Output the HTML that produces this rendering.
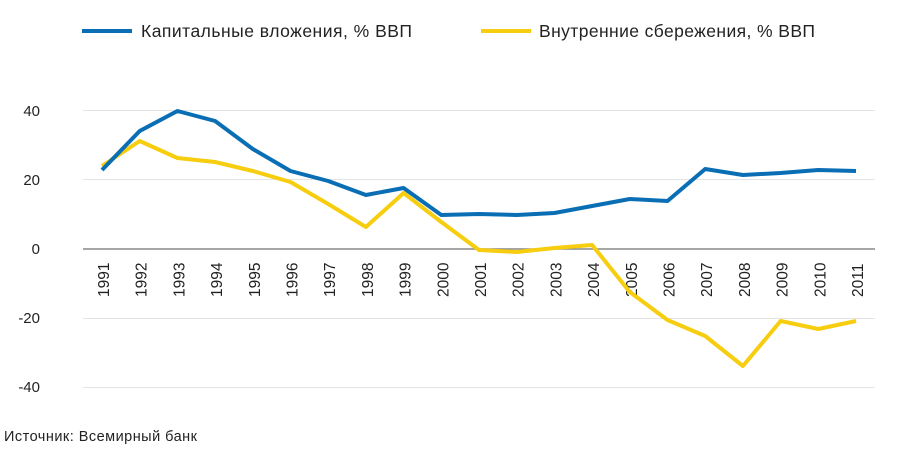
<!DOCTYPE html><html><head><meta charset="utf-8"><style>body{margin:0;background:#fff;width:911px;height:446px;overflow:hidden;font-family:"Liberation Sans",sans-serif}</style></head><body>
<svg width="911" height="446" xmlns="http://www.w3.org/2000/svg" font-family="Liberation Sans, sans-serif">
<line x1="82" y1="31" x2="132" y2="31" stroke="#0a6eb4" stroke-width="4"/>
<text x="141" y="37" font-size="17.5" fill="#222" textLength="271">Капитальные вложения, % ВВП</text>
<line x1="481" y1="31" x2="531" y2="31" stroke="#f7cd0f" stroke-width="4"/>
<text x="539" y="37" font-size="17.5" fill="#222" textLength="276">Внутренние сбережения, % ВВП</text>
<g stroke="#e3e3e3" stroke-width="1"><line x1="83" y1="110.5" x2="875" y2="110.5"/><line x1="83" y1="179.5" x2="875" y2="179.5"/><line x1="83" y1="318.5" x2="875" y2="318.5"/><line x1="83" y1="387.5" x2="875" y2="387.5"/></g>
<line x1="83" y1="249" x2="875" y2="249" stroke="#888" stroke-width="1.5"/>
<g font-size="15" fill="#222" text-anchor="end"><text x="40" y="116">40</text><text x="40" y="185">20</text><text x="40" y="254">0</text><text x="40" y="323">-20</text><text x="40" y="392">-40</text></g>
<g font-size="15.5" fill="#222">
<text transform="translate(109,297) rotate(-90)">1991</text>
<text transform="translate(146.7,297) rotate(-90)">1992</text>
<text transform="translate(184.4,297) rotate(-90)">1993</text>
<text transform="translate(222.1,297) rotate(-90)">1994</text>
<text transform="translate(259.8,297) rotate(-90)">1995</text>
<text transform="translate(297.5,297) rotate(-90)">1996</text>
<text transform="translate(335.2,297) rotate(-90)">1997</text>
<text transform="translate(372.9,297) rotate(-90)">1998</text>
<text transform="translate(410.6,297) rotate(-90)">1999</text>
<text transform="translate(448.3,297) rotate(-90)">2000</text>
<text transform="translate(486,297) rotate(-90)">2001</text>
<text transform="translate(523.7,297) rotate(-90)">2002</text>
<text transform="translate(561.4,297) rotate(-90)">2003</text>
<text transform="translate(599.1,297) rotate(-90)">2004</text>
<text transform="translate(636.8,297) rotate(-90)">2005</text>
<text transform="translate(674.5,297) rotate(-90)">2006</text>
<text transform="translate(712.2,297) rotate(-90)">2007</text>
<text transform="translate(749.9,297) rotate(-90)">2008</text>
<text transform="translate(787.6,297) rotate(-90)">2009</text>
<text transform="translate(825.3,297) rotate(-90)">2010</text>
<text transform="translate(863,297) rotate(-90)">2011</text>
</g>
<polyline fill="none" stroke="#f7cd0f" stroke-width="4" stroke-linejoin="round" points="102,166 139.7,141 177.4,158 215.1,162 252.8,171 290.5,182 328.2,204 365.9,227 403.6,193 441.3,222 479,250 516.7,252 554.4,248 592.1,245 629.8,292 667.5,320 705.2,336 742.9,366 780.6,321 818.3,329 856,321"/>
<polyline fill="none" stroke="#0a6eb4" stroke-width="4" stroke-linejoin="round" points="102,170 139.7,131 177.4,111 215.1,121 252.8,149 290.5,171 328.2,181 365.9,195 403.6,188 441.3,215 479,214 516.7,215 554.4,213 592.1,206 629.8,199 667.5,201 705.2,169 742.9,175 780.6,173 818.3,170 856,171"/>
<text x="4" y="441" font-size="14.5" fill="#222" textLength="193">Источник: Всемирный банк</text>
</svg></body></html>
